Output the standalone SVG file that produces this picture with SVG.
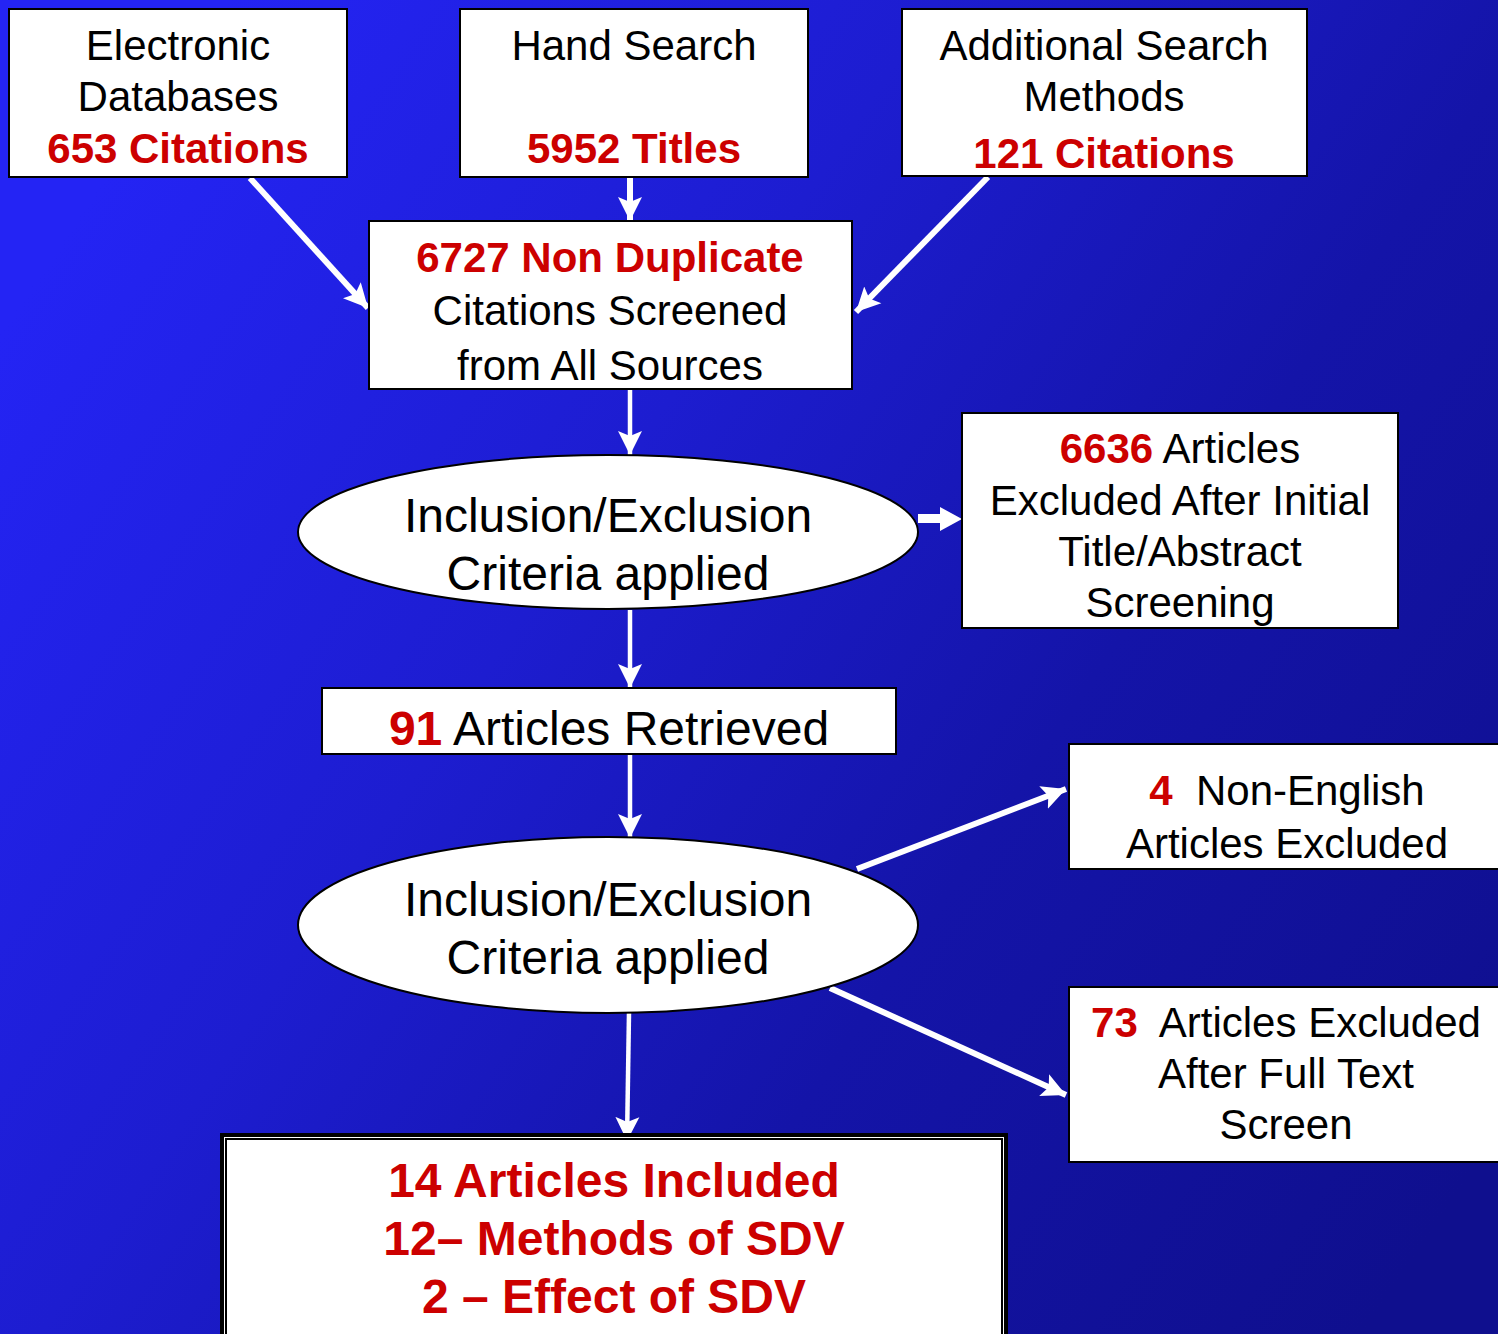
<svg xmlns="http://www.w3.org/2000/svg" width="1498" height="1334" viewBox="0 0 1498 1334">
<defs>
<linearGradient id="bg" x1="0" y1="0.25" x2="1" y2="0.85">
<stop offset="0" stop-color="#2424f4"/>
<stop offset="0.35" stop-color="#1d1dd0"/>
<stop offset="0.65" stop-color="#1414a8"/>
<stop offset="1" stop-color="#0f0f8e"/>
</linearGradient>
<marker id="ah" markerUnits="userSpaceOnUse" markerWidth="26" markerHeight="26" refX="24" refY="13" orient="auto">
<path d="M0,1 L24,13 L0,25 L5,13 Z" fill="#ffffff"/>
</marker>
<style>
.box{fill:#ffffff;stroke:#000000;stroke-width:2}
.ell{fill:#ffffff;stroke:#000000;stroke-width:2}
.t{font-family:"Liberation Sans",Arial,sans-serif;font-size:42px;fill:#000000;text-anchor:middle;white-space:pre}
.big{font-size:48px}
.r{fill:#cc0000;font-weight:bold}
.c{fill:none;stroke:#ffffff;stroke-width:6;marker-end:url(#ah)}
.thin{stroke-width:4.5}
</style>
</defs>
<rect x="0" y="0" width="1498" height="1334" fill="url(#bg)"/>

<g id="connectors">
<line class="c" x1="250" y1="178" x2="368" y2="308"/>
<line class="c" x1="630" y1="178" x2="630" y2="221"/>
<line class="c" x1="988" y1="177" x2="856" y2="312"/>
<line class="c thin" x1="630" y1="390" x2="630" y2="455"/>
<polygon points="918,514 940,514 940,507 962,519 940,531 940,523 918,523" fill="#ffffff"/>
<line class="c thin" x1="630" y1="610" x2="630" y2="688"/>
<line class="c thin" x1="630" y1="755" x2="630" y2="838"/>
<line class="c" x1="857" y1="869" x2="1066" y2="789"/>
<line class="c" x1="830" y1="988" x2="1066" y2="1095"/>
<line class="c thin" x1="629" y1="1013" x2="627" y2="1141"/>
</g>

<g id="electronic">
<rect class="box" x="9" y="9" width="338" height="168"/>
<text class="t" x="178" y="60">Electronic</text>
<text class="t" x="178" y="111">Databases</text>
<text class="t r" x="178" y="163">653 Citations</text>
</g>

<g id="hand">
<rect class="box" x="460" y="9" width="348" height="168"/>
<text class="t" x="634" y="60">Hand Search</text>
<text class="t r" x="634" y="163">5952 Titles</text>
</g>

<g id="additional">
<rect class="box" x="902" y="9" width="405" height="167"/>
<text class="t" x="1104" y="60">Additional Search</text>
<text class="t" x="1104" y="111">Methods</text>
<text class="t r" x="1104" y="168">121 Citations</text>
</g>

<g id="nondup">
<rect class="box" x="369" y="221" width="483" height="168"/>
<text class="t r" x="610" y="272">6727 Non Duplicate</text>
<text class="t" x="610" y="325">Citations Screened</text>
<text class="t" x="610" y="380">from All Sources</text>
</g>

<g id="criteria1">
<ellipse class="ell" cx="608" cy="532" rx="310" ry="77"/>
<text class="t big" x="608" y="532">Inclusion/Exclusion</text>
<text class="t big" x="608" y="590">Criteria applied</text>
</g>

<g id="excluded6636">
<rect class="box" x="962" y="413" width="436" height="215"/>
<text class="t" x="1180" y="463"><tspan class="r">6636</tspan> Articles</text>
<text class="t" x="1180" y="515">Excluded After Initial</text>
<text class="t" x="1180" y="566">Title/Abstract</text>
<text class="t" x="1180" y="617">Screening</text>
</g>

<g id="retrieved">
<rect class="box" x="322" y="688" width="574" height="66"/>
<text class="t big" x="609" y="745"><tspan class="r">91</tspan> Articles Retrieved</text>
</g>

<g id="criteria2">
<ellipse class="ell" cx="608" cy="925" rx="310" ry="88"/>
<text class="t big" x="608" y="916">Inclusion/Exclusion</text>
<text class="t big" x="608" y="974">Criteria applied</text>
</g>

<g id="nonenglish">
<rect class="box" x="1069" y="744" width="445" height="125"/>
<text class="t" x="1287" y="805"><tspan class="r">4</tspan>  Non-English</text>
<text class="t" x="1287" y="858">Articles Excluded</text>
</g>

<g id="fulltext">
<rect class="box" x="1069" y="987" width="445" height="175"/>
<text class="t" x="1286" y="1037"><tspan class="r">73</tspan>  Articles Excluded</text>
<text class="t" x="1286" y="1088">After Full Text</text>
<text class="t" x="1286" y="1139">Screen</text>
</g>

<g id="included">
<rect x="222" y="1135" width="784" height="215" fill="#ffffff" stroke="#000000" stroke-width="4"/>
<rect x="226" y="1139" width="776" height="210" fill="#ffffff" stroke="#000000" stroke-width="2"/>
<text class="t big r" x="614" y="1197">14 Articles Included</text>
<text class="t big r" x="614" y="1255">12– Methods of SDV</text>
<text class="t big r" x="614" y="1313">2 – Effect of SDV</text>
</g>
</svg>
